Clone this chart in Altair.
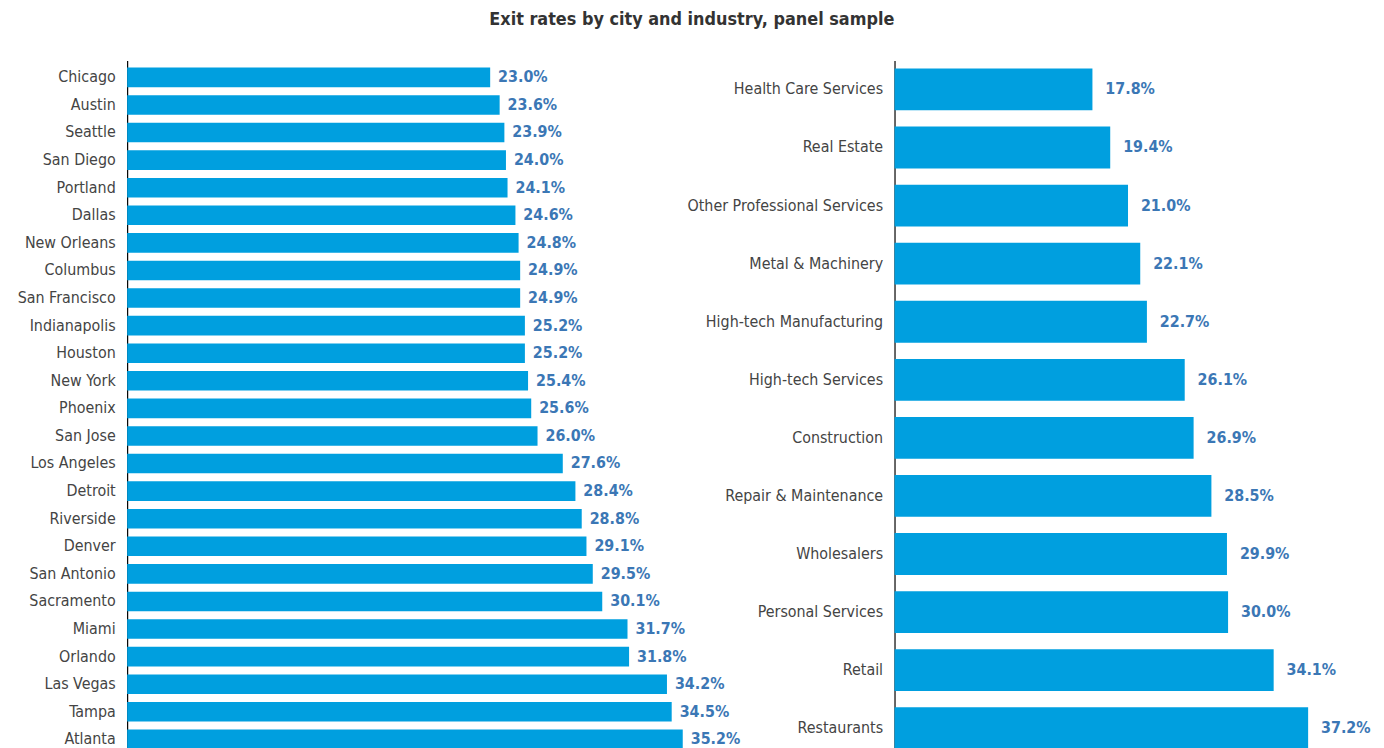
import altair as alt
import pandas as pd

cities = ["Chicago", "Austin", "Seattle", "San Diego", "Portland", "Dallas",
          "New Orleans", "Columbus", "San Francisco", "Indianapolis", "Houston",
          "New York", "Phoenix", "San Jose", "Los Angeles", "Detroit", "Riverside",
          "Denver", "San Antonio", "Sacramento", "Miami", "Orlando", "Las Vegas",
          "Tampa", "Atlanta"]
city_rates = [23.0, 23.6, 23.9, 24.0, 24.1, 24.6, 24.8, 24.9, 24.9, 25.2, 25.2,
              25.4, 25.6, 26.0, 27.6, 28.4, 28.8, 29.1, 29.5, 30.1, 31.7, 31.8,
              34.2, 34.5, 35.2]

industries = ["Health Care Services", "Real Estate", "Other Professional Services",
              "Metal & Machinery", "High-tech Manufacturing", "High-tech Services",
              "Construction", "Repair & Maintenance", "Wholesalers",
              "Personal Services", "Retail", "Restaurants"]
industry_rates = [17.8, 19.4, 21.0, 22.1, 22.7, 26.1, 26.9, 28.5, 29.9, 30.0, 34.1, 37.2]

FONT = "Liberation Sans Narrow, DejaVu Sans Condensed, Roboto, sans-serif"
BAR = "#009FDF"
LAB = "#3B77B5"

city_df = pd.DataFrame({"name": cities, "rate": city_rates})
ind_df = pd.DataFrame({"name": industries, "rate": industry_rates})


def panel(df, order, width, height, pin, pout, dx, extent):
    base = alt.Chart(df).encode(
        y=alt.Y("name:N", sort=order, title=None,
                scale=alt.Scale(paddingInner=pin, paddingOuter=pout),
                axis=alt.Axis(domainColor="#000000", domainWidth=1.2, ticks=False,
                              labelPadding=12, labelFont=FONT, labelFontSize=16,
                              labelColor="#444444", labelLimit=400,
                              minExtent=extent, maxExtent=extent)),
        x=alt.X("rate:Q", axis=None, scale=alt.Scale(domain=[0, 40])),
    )
    bars = base.mark_bar(color=BAR)
    text = base.transform_calculate(
        lbl="format(datum.rate, '.1f') + '%'"
    ).mark_text(align="left", dx=dx, font=FONT, fontSize=16,
                fontWeight="bold", color=LAB).encode(text="lbl:N")
    return (bars + text).properties(width=width, height=height)


left = panel(city_df, cities, 636, 701, 0.29, 0.26, 8, 115)
right = panel(ind_df, industries, 448, 702, 0.28, 0.14, 13, 214)

chart = alt.hconcat(left, right, spacing=137, bounds="flush").properties(
    title=alt.TitleParams("Exit rates by city and industry, panel sample",
                          font=FONT, fontSize=18, fontWeight="bold",
                          color="#333333", anchor="middle", offset=32),
    padding={"top": 0, "left": 5, "right": 5, "bottom": 5},
).configure_view(stroke=None)

chart.save("out.html", embed_options={"renderer": "svg", "actions": False})
